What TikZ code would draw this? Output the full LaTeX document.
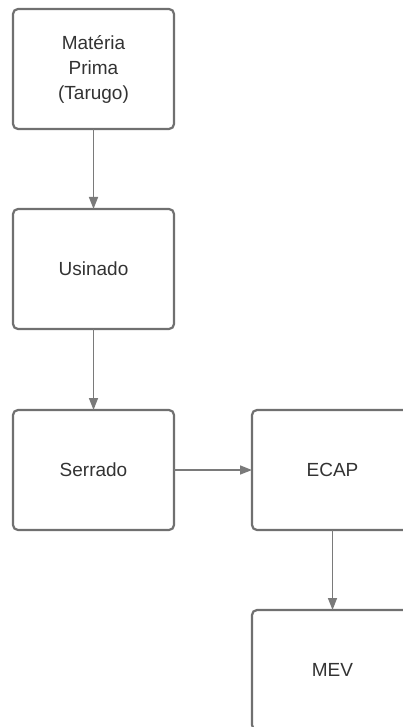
\documentclass[tikz,border=0pt]{standalone}
\usepackage{fontspec}
\setmainfont{Liberation Sans}
\usepackage{xcolor}
\usepackage{tikz}
\usetikzlibrary{arrows.meta, positioning}
\definecolor{boxStroke}{HTML}{707070}
\definecolor{boxTxt}{HTML}{333333}
\definecolor{arrStroke}{HTML}{7A7A7A}

\begin{document}
\begin{tikzpicture}[
		x=1pt, y=1pt,
		%--- Node Styles ---------------------------------------------------
		stage/.style={
			rectangle,
			rounded corners=5pt,
			draw=boxStroke,
			line width=2.2pt,
			fill=white,
			minimum width=161pt,
			minimum height=120pt,
			outer sep=0pt,
			align=center,
			text=boxTxt,
			font=\fontsize{19}{25}\selectfont
		},
		%--- Arrow Styles --------------------------------------------------
		flowarrow/.style={
			-{Triangle[length=12pt,width=9pt]},
			line width=1.6pt,
			draw=arrStroke
		}
		]
		
		%--- Frame of the picture ----------------------------------------------
		
		\fill[white] (0,0) rectangle (403,-727);
		\clip (0,0) rectangle (403,-727);
		
		%--- Left Column Nodes (top to bottom) ---------------------------------
		
		\node[stage] (raw) at (93.5,-69)
		{Matéria\\Prima\\(Tarugo)};
		
		\node[stage, below=80pt of raw] (usinado)
		{Usinado};
		
		\node[stage, below=81pt of usinado] (serrado)
		{Serrado};
		
		%--- Right Column Nodes ------------------------------------------------
		
		\node[stage, right=78pt of serrado] (ecap)
		{ECAP};
		
		\node[stage, below=80pt of ecap] (mev)
		{MEV};
		
		%--- Flow Arrows -------------------------------------------------------
		
		\draw[flowarrow] (raw)     -- (usinado);
		\draw[flowarrow] (usinado) -- (serrado);
		\draw[flowarrow] (serrado) -- (ecap);
		\draw[flowarrow] (ecap)    -- (mev);
		
	\end{tikzpicture}
\end{document}
